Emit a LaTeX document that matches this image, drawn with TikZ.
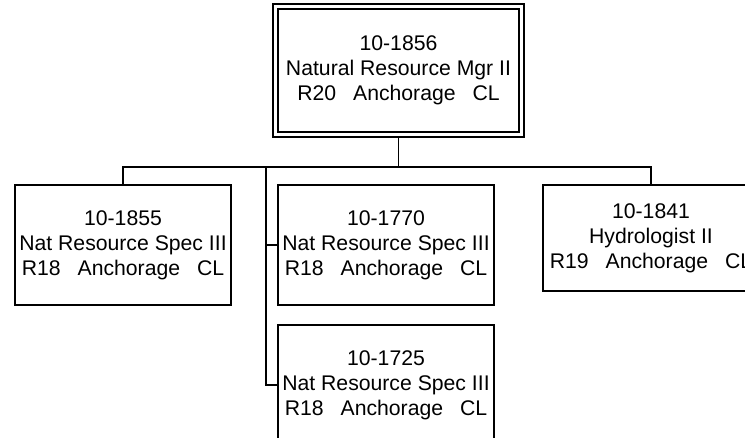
\documentclass[tikz,border=0pt]{standalone}
\usepackage{fontspec}
\setmainfont{Liberation Sans}
\newcommand{\posgap}{\hspace{0.8em}}

\begin{document}
\begin{tikzpicture}[x=1pt, y=-1pt,
    posbox/.style={draw, line width=1.7pt, minimum width=216pt, minimum height=120pt,
      inner sep=0pt, align=center, font=\fontsize{21.2}{25}\selectfont},
    link/.style={line width=1.7pt}]
  \useasboundingbox (0,0) rectangle (745,438);
  \clip (0,0) rectangle (745,438);
  % Manager box with double frame
  \node[posbox, double, double distance=3.3pt, outer sep=3.4pt,
        minimum width=246pt, minimum height=128pt] (mgr) at (398.5,70.5)
    {10-1856\\Natural Resource Mgr II\\R20\posgap Anchorage\posgap CL};
  % Direct reports
  \node[posbox] (spec55) at (123,245)
    {10-1855\\Nat Resource Spec III\\R18\posgap Anchorage\posgap CL};
  \node[posbox] (spec70) at (386,245)
    {10-1770\\Nat Resource Spec III\\R18\posgap Anchorage\posgap CL};
  \node[posbox] (spec25) at (386,385)
    {10-1725\\Nat Resource Spec III\\R18\posgap Anchorage\posgap CL};
  \node[posbox, minimum height=106pt] (hydro) at (651,238)
    {10-1841\\Hydrologist II\\R19\posgap Anchorage\posgap CL};
  % Connectors
  \coordinate (bar) at (0,167);
  \coordinate (spine) at (266,167);
  \draw[link] (mgr.south) -- (mgr.south |- bar);
  \draw[link] (spec55.north) |- (hydro.north |- bar) -- (hydro.north);
  \draw[link] (spine) |- (spec25.west);
  \draw[link] (spec70.west) -- (spec70.west -| spine);
\end{tikzpicture}
\end{document}
